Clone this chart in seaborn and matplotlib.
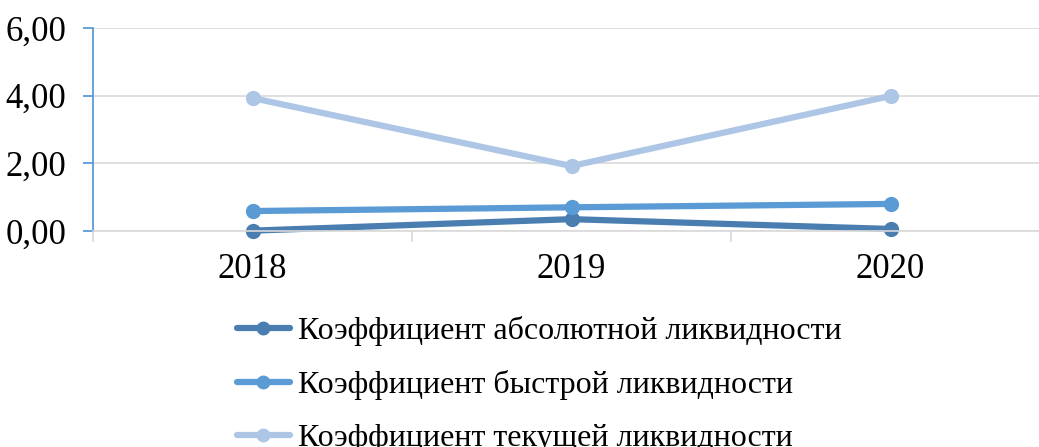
import numpy as np
import pandas as pd
import matplotlib
matplotlib.use("Agg")
import matplotlib.pyplot as plt
from matplotlib.lines import Line2D
import seaborn as sns

years = ["2018", "2019", "2020"]
absolute = [0.01, 0.35, 0.06]
quick = [0.59, 0.70, 0.80]
current = [3.93, 1.92, 3.99]
names = ["Коэффициент абсолютной ликвидности",
         "Коэффициент быстрой ликвидности",
         "Коэффициент текущей ликвидности"]
colors = ["#4a7eb0", "#5b9bd5", "#adc6e5"]

df = pd.DataFrame({
    "year": years * 3,
    "value": absolute + quick + current,
    "series": [names[0]] * 3 + [names[1]] * 3 + [names[2]] * 3,
})

sns.set_style("white")
plt.rcParams["font.family"] = ["Liberation Serif", "DejaVu Serif"]
plt.rcParams["text.color"] = "black"
plt.rcParams["xtick.color"] = "black"
plt.rcParams["ytick.color"] = "black"

fig = plt.figure(figsize=(10.39, 4.47), dpi=100)
ax = fig.add_axes([93 / 1039, 1 - 231 / 447, (1050 - 93) / 1039, (231 - 28) / 447])

sns.lineplot(data=df, x="year", y="value", hue="series", palette=colors,
             marker="o", markersize=11, markeredgewidth=0, linewidth=4.5,
             legend=False, ax=ax, sort=False, clip_on=False)

ax.set_xlim(-0.5, 2.5)
ax.set_ylim(0, 6)
ax.set_yticks([0, 2, 4, 6])
ax.set_yticklabels(["0,00", "2,00", "4,00", "6,00"])
ax.set_xticks([0, 1, 2])
ax.set_xticklabels(years)
ax.set_xticks([-0.5, 0.5, 1.5], minor=True)
ax.set_xlabel("")
ax.set_ylabel("")
ax.grid(axis="y", color="#d9d9d9", linewidth=1.2)
ax.set_axisbelow(True)

for s in ["top", "right"]:
    ax.spines[s].set_visible(False)
ax.spines["left"].set_color("#5b9bd5")
ax.spines["left"].set_linewidth(1.3)
ax.spines["bottom"].set_color("#d9d9d9")
ax.spines["bottom"].set_linewidth(1.2)

ax.tick_params(axis="y", which="major", length=7, width=1.3, color="#5b9bd5",
               labelsize=25, pad=12, direction="out", left=True, labelcolor="black")
ax.tick_params(axis="x", which="major", length=0, labelsize=25, pad=16, labelcolor="black")
ax.tick_params(axis="x", which="minor", length=8, width=1.2, color="#d9d9d9",
               direction="out", bottom=True)

handles = [Line2D([0], [0], color=c, linewidth=4.5, marker="o", markersize=10,
                  markeredgewidth=0) for c in colors]
fig.legend(handles, names, loc="upper left", bbox_to_anchor=(237 / 1039, 1 - 316 / 447),
           frameon=False, fontsize=23, handlelength=1.65, handletextpad=0.25,
           labelspacing=0.75, borderaxespad=0, borderpad=0)

fig.savefig("out.png", dpi=100)
